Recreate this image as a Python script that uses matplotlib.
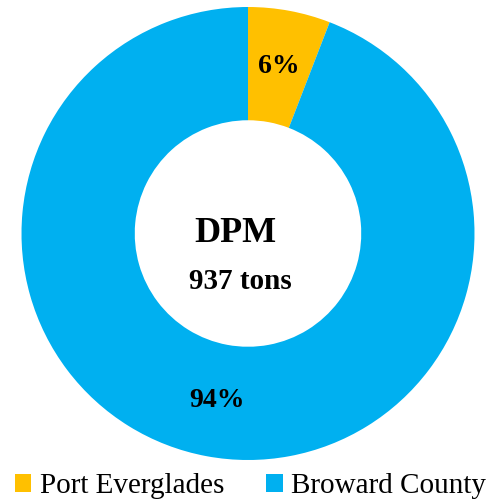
import numpy as np
import matplotlib
matplotlib.use("Agg")
import matplotlib.pyplot as plt
from matplotlib.patches import Patch

# DPM emissions split (tons)
sources = ["Port Everglades", "Broward County"]
tons = [55, 882]
pct_labels = ["6%", "94%"]
colors = ["#FFC000", "#00B0F0"]
total_label = "937 tons"
pollutant = "DPM"

plt.rcParams["font.family"] = ["Liberation Serif", "DejaVu Serif"]

W, H = 501, 503
fig = plt.figure(figsize=(W / 100, H / 100), dpi=100)
ax = fig.add_axes([0, 0, 1, 1])

R = 226.5              # outer radius in pixels
cx, cy = 248, 269.5    # centre in pixels from bottom-left

wedges, _ = ax.pie(tons, colors=colors, startangle=90, counterclock=False,
                   radius=1.0, wedgeprops=dict(width=0.5, linewidth=0))

# percentage labels in the middle of the ring along each wedge's mid angle
for w, lab in zip(wedges, pct_labels):
    mid = np.deg2rad((w.theta1 + w.theta2) / 2)
    ax.text(0.75 * np.cos(mid), 0.75 * np.sin(mid), lab, ha="center",
            va="center", fontsize=20, fontweight="bold", color="black")

ax.text(-0.057, 0.0, pollutant, ha="center", va="center",
        fontsize=26, fontweight="bold")
ax.text(-0.035, -0.21, total_label, ha="center", va="center",
        fontsize=21, fontweight="bold")

ax.set_xlim(-cx / R, (W - cx) / R)
ax.set_ylim(-cy / R, (H - cy) / R)
ax.set_aspect("auto")
ax.axis("off")

handles = [Patch(facecolor=c, edgecolor="none") for c in colors]
fig.legend(handles, sources, loc="center", ncol=2, frameon=False,
           bbox_to_anchor=(0.5, 0.033), fontsize=21, handlelength=0.56,
           handleheight=0.56, handletextpad=0.3, columnspacing=1.45,
           borderpad=0, borderaxespad=0)

fig.savefig("out.png", dpi=100)
